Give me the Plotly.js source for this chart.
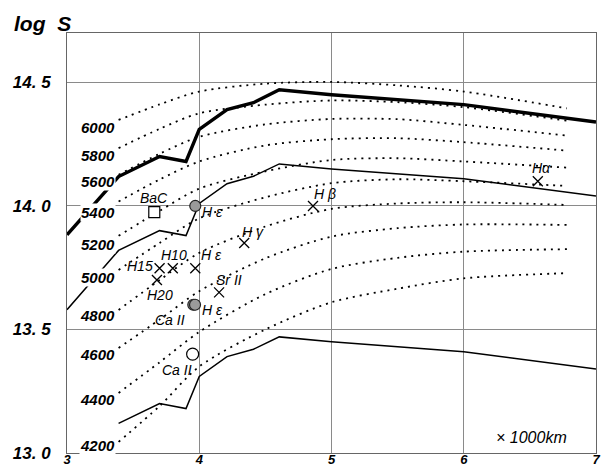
<!DOCTYPE html>
<html>
<head>
<meta charset="utf-8">
<script src="https://cdn.plot.ly/plotly-3.0.1.min.js"></script>
<style>html,body{margin:0;padding:0;background:#fff}#chart{width:603px;height:468px}</style>
</head>
<body>
<div id="chart"></div>
<script>
// ---- data ----
const tempLabels = ['6000','5800','5600','5400','5200','5000','4800','4600','4400','4200'];
const tempLabelY = [14.316, 14.206, 14.097, 13.972, 13.842, 13.709, 13.555, 13.400, 13.215, 13.032];
const isoX = [3.39, 3.7, 4.0, 4.5, 5.0, 5.5, 6.0, 6.78];
const T6000 = [14.348, 14.411, 14.463, 14.495, 14.502, 14.488, 14.463, 14.395];
const T5800 = [14.234, 14.312, 14.375, 14.410, 14.427, 14.420, 14.400, 14.345];
const T5600 = [14.126, 14.211, 14.280, 14.330, 14.352, 14.351, 14.328, 14.285];
const T5400 = [14.018, 14.107, 14.180, 14.245, 14.270, 14.274, 14.258, 14.224];
const T5200 = [13.879, 13.980, 14.070, 14.140, 14.186, 14.193, 14.180, 14.155];
const T5000 = [13.741, 13.850, 13.950, 14.035, 14.092, 14.108, 14.100, 14.081];
const T4800 = [13.579, 13.700, 13.810, 13.917, 13.988, 14.010, 14.015, 14.004];
const T4600 = [13.425, 13.540, 13.655, 13.788, 13.876, 13.910, 13.925, 13.923];
const T4400 = [13.243, 13.367, 13.490, 13.643, 13.745, 13.790, 13.815, 13.825];
const T4200 = [13.045, 13.190, 13.350, 13.500, 13.610, 13.665, 13.707, 13.728];
const isoY = [T6000, T5800, T5600, T5400, T5200, T5000, T4800, T4600, T4400, T4200];

const thickX = [3.0, 3.39, 3.70, 3.90, 4.0, 4.21, 4.41, 4.605, 5.0, 6.0, 7.0];
const thickY = [13.883, 14.119, 14.20, 14.18, 14.31, 14.39, 14.418, 14.47, 14.45, 14.41, 14.34];
const midX = [3.0, 3.39, 3.70, 3.90, 4.0, 4.21, 4.41, 4.605, 5.0, 6.0, 7.0];
const midY = [13.58, 13.82, 13.90, 13.88, 14.01, 14.09, 14.12, 14.17, 14.15, 14.11, 14.04];
const lowX = [3.39, 3.70, 3.90, 4.0, 4.21, 4.41, 4.605, 5.0, 6.0, 7.0];
const lowY = [13.12, 13.20, 13.18, 13.31, 13.39, 13.42, 13.47, 13.45, 13.41, 13.34];

const crossX = [3.70, 3.80, 3.97, 3.68, 4.15, 4.34, 4.86, 6.56];
const crossY = [13.748, 13.748, 13.748, 13.70, 13.65, 13.85, 14.00, 14.10];
const grayX = [3.97, 3.955, 3.968];
const grayY = [14.00, 13.60, 13.60];
const openCircX = [3.95];
const openCircY = [13.40];
const squareX = [3.66];
const squareY = [13.975];

const lineLabels = ['BaC','H ε','H β','H γ','H10','H ε','H15','H20','Sr II','H ε','Ca II','Ca II','Hα'];
const lineLabelX = [3.659, 4.098, 4.95, 4.406, 3.809, 4.096, 3.552, 3.70, 4.224, 4.10, 3.778, 3.835, 6.59];
const lineLabelY = [14.032, 13.977, 14.05, 13.896, 13.80, 13.80, 13.757, 13.64, 13.70, 13.579, 13.538, 13.336, 14.154];

const xTicks = [3, 4, 5, 6, 7];
const yTicks = [13.0, 13.5, 14.0, 14.5];
const yTickText = ['13. 0', '13. 5', '14. 0', '14. 5'];

// ---- traces ----
const traces = [];
isoY.forEach((ys) => {
  traces.push({x: isoX, y: ys, mode: 'lines', line: {color: '#000', width: 1.8, dash: '2px,5px', shape: 'spline', smoothing: 0.8}, hoverinfo: 'skip'});
});
traces.push({x: thickX, y: thickY, mode: 'lines', line: {color: '#000', width: 3.4}});
traces.push({x: midX, y: midY, mode: 'lines', line: {color: '#000', width: 1.5}});
traces.push({x: lowX, y: lowY, mode: 'lines', line: {color: '#000', width: 1.5}});
traces.push({x: crossX, y: crossY, mode: 'markers', marker: {symbol: 'x-thin-open', size: 10, color: '#000', line: {color: '#000', width: 1.3}}});
traces.push({x: grayX, y: grayY, mode: 'markers', marker: {symbol: 'circle', size: 11, color: '#9a9a9a', line: {color: '#222', width: 1.2}}});
traces.push({x: openCircX, y: openCircY, mode: 'markers', marker: {symbol: 'circle', size: 12, color: '#fff', line: {color: '#000', width: 1.2}}});
traces.push({x: squareX, y: squareY, mode: 'markers', marker: {symbol: 'square', size: 11, color: '#fff', line: {color: '#000', width: 1.2}}});

const fam = 'Liberation Sans, Arial, sans-serif';
const annotations = [];
tempLabels.forEach((t, i) => {
  annotations.push({x: 3.37, y: tempLabelY[i], xref: 'x', yref: 'y', text: t, showarrow: false,
    xanchor: 'right', yanchor: 'middle', bgcolor: '#fff', borderpad: 0,
    font: {family: fam, size: 15, style: 'italic', weight: 'bold', color: '#000'}});
});
lineLabels.forEach((t, i) => {
  annotations.push({x: lineLabelX[i], y: lineLabelY[i], xref: 'x', yref: 'y', text: t, showarrow: false,
    xanchor: 'center', yanchor: 'middle',
    font: {family: fam, size: 14, style: 'italic', color: '#000'}});
});
annotations.push({x: 6.515, y: 13.061, xref: 'x', yref: 'y', text: '× 1000km', showarrow: false,
  xanchor: 'center', yanchor: 'middle', font: {family: fam, size: 16, style: 'italic', color: '#000'}});
annotations.push({x: (12 - 67) / 529, y: 1 + (33 - 23) / 420, xref: 'paper', yref: 'paper',
  xanchor: 'left', yanchor: 'middle', text: 'log  S', showarrow: false,
  font: {family: fam, size: 21, style: 'italic', weight: 'bold', color: '#000'}});

const layout = {
  width: 603, height: 468,
  margin: {l: 67, r: 7, t: 33, b: 15, pad: 0},
  paper_bgcolor: '#fff', plot_bgcolor: '#fff',
  showlegend: false,
  font: {family: fam, color: '#000'},
  xaxis: {range: [3, 7], tickvals: xTicks, ticktext: xTicks.map(String),
    showgrid: true, gridcolor: '#8a8a8a', gridwidth: 1, zeroline: false,
    showline: true, linecolor: '#666', linewidth: 1, mirror: true, ticks: '',
    ticklabelstandoff: -6,
    tickfont: {family: fam, size: 13, style: 'italic', weight: 'bold', color: '#000'}},
  yaxis: {range: [13.0, 14.70], tickvals: yTicks, ticktext: yTickText,
    showgrid: true, gridcolor: '#8a8a8a', gridwidth: 1, zeroline: false,
    showline: true, linecolor: '#666', linewidth: 1, mirror: true, ticks: '',
    ticklabelstandoff: 12,
    tickfont: {family: fam, size: 17, style: 'italic', weight: 'bold', color: '#000'}},
  annotations: annotations
};

Plotly.newPlot('chart', traces, layout, {staticPlot: true, displayModeBar: false});
</script>
</body>
</html>
